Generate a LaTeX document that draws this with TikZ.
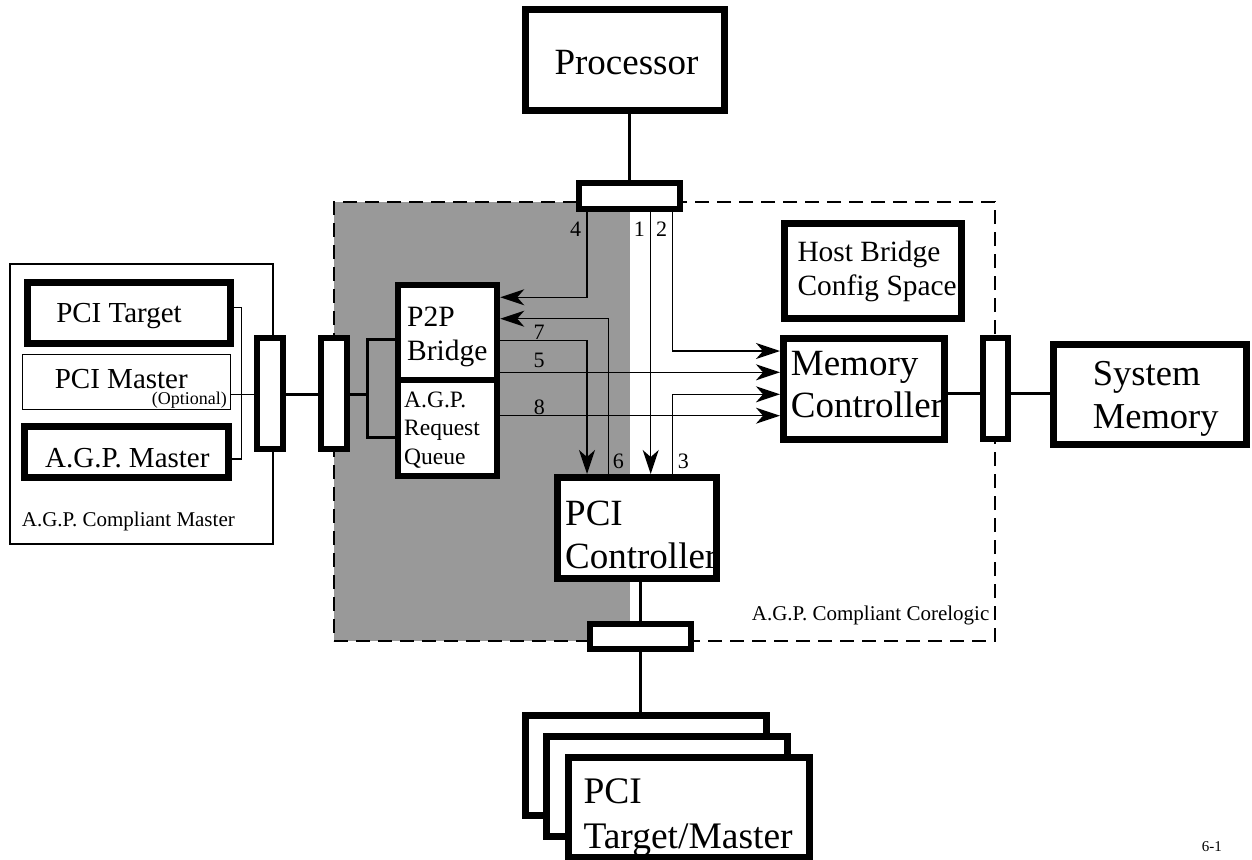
\documentclass[tikz,border=0pt]{standalone}
\usepackage{fontspec}
\setmainfont{Liberation Serif}
\usetikzlibrary{arrows.meta}
\definecolor{shadegray}{RGB}{153,153,153}
\newcommand{\setfs}[1]{\fontsize{#1}{#1}\selectfont}
\tikzset{
  heavybox/.style={draw, line width=7pt, fill=white, inner sep=0pt},
  portbox/.style={draw, line width=6pt, fill=white, inner sep=0pt},
  txt/.style={inner sep=0pt, anchor=base west},
  ctxt/.style={inner sep=0pt, anchor=base},
  bus/.style={line width=3pt},
  thinline/.style={line width=1.2pt},
  flow/.style={line width=1.5pt, -{Stealth[length=24pt,width=16pt,inset=7pt]}},
  num/.style={inner sep=0pt, anchor=base, font=\setfs{22}},
}
\begin{document}
\begin{tikzpicture}[x=1pt,y=-1pt]
\useasboundingbox (0,0) rectangle (1252,859);
% shaded area and corelogic frame
\node[fill=shadegray, inner sep=0pt, outer sep=0pt, minimum width=296pt, minimum height=439pt, anchor=north west] (shade) at (334,202) {};
\node[draw, line width=2pt, dash pattern=on 14pt off 8pt, inner sep=0pt, outer sep=0pt, minimum width=661pt, minimum height=439pt, anchor=north west] (core) at (334,202) {};
% master frame
\node[draw, line width=2pt, inner sep=0pt, outer sep=0pt, minimum width=263pt, minimum height=280.5pt] (mframe) at (141,403.75) {};
% boxes
\node[heavybox, minimum width=199pt, minimum height=100pt] (proc) at (624.5,60) {};
\node[portbox, minimum width=101pt, minimum height=25.5pt] (topport) at (629.5,195.75) {};
\node[heavybox, line width=6.5pt, minimum width=99pt, minimum height=95pt] (p2p) at (447.5,332.5) {};
\node[heavybox, line width=6.5pt, minimum width=99pt, minimum height=96pt] (arq) at (447.5,428) {};
\node[portbox, minimum width=26pt, minimum height=111pt] (cport) at (334,393.5) {};
\node[portbox, minimum width=26.5pt, minimum height=111pt] (mport) at (269.75,393.5) {};
\node[heavybox, minimum width=203pt, minimum height=60.5pt] (ptgt) at (128.5,312.75) {};
\node[draw, line width=1pt, fill=white, inner sep=0pt, minimum width=207.4pt, minimum height=54.7pt] (pmst) at (126.5,382.2) {};
\node[heavybox, minimum width=204pt, minimum height=51pt] (agpm) at (126.5,451.5) {};
\node[heavybox, minimum width=177pt, minimum height=95pt] (hbcs) at (872.5,270.5) {};
\node[heavybox, minimum width=160.5pt, minimum height=100.5pt] (memc) at (863.75,388.75) {};
\node[portbox, minimum width=25pt, minimum height=101pt] (memport) at (995,388.5) {};
\node[heavybox, minimum width=193pt, minimum height=100pt] (sysmem) at (1150,394) {};
\node[heavybox, minimum width=159pt, minimum height=101pt] (pcic) at (637,528) {};
\node[portbox, minimum width=100.5pt, minimum height=25pt] (botport) at (640.25,636) {};
\node[heavybox, minimum width=241pt, minimum height=100pt] (tm3) at (645.5,765) {};
\node[heavybox, minimum width=241pt, minimum height=100pt] (tm2) at (667,786) {};
\node[heavybox, minimum width=241pt, minimum height=100pt] (tm1) at (688.5,807) {};
% helper coordinates
\coordinate (xa) at (587,0);
\coordinate (xb) at (608.3,0);
\coordinate (xc) at (650.7,0);
\coordinate (xd) at (672.3,0);
\coordinate (xp) at (629,0);
\coordinate (xq) at (640,0);
\coordinate (tbx) at (241.7,0);
\coordinate (y297) at (0,297.3);
\coordinate (y308) at (0,307.7);
\coordinate (y319) at (0,318.7);
\coordinate (y339) at (0,339.3);
\coordinate (y340) at (0,340.3);
\coordinate (y351) at (0,351);
\coordinate (y372) at (0,372.3);
\coordinate (y393) at (0,393.3);
\coordinate (y394) at (0,394.3);
\coordinate (y416) at (0,415.7);
\coordinate (y437) at (0,437.3);
\coordinate (y459) at (0,459);
\coordinate (brk) at (367.7,394.3);
% flows
\draw[flow] (topport.south -| xa) |- (p2p.east |- y297);
\draw[flow] (topport.south -| xc) -- (pcic.north -| xc);
\draw[flow] (topport.south -| xd) |- (memc.west |- y351);
\draw[flow] (pcic.north -| xb) |- (p2p.east |- y319);
\draw[flow] (p2p.east |- y340) -| (pcic.north -| xa);
\draw[flow] (p2p.east |- y372) -- (memc.west |- y372);
\draw[flow] (pcic.north -| xd) |- (memc.west |- y394);
\draw[flow] (arq.east |- y416) -- (memc.west |- y416);
% master internal wiring
\draw[thinline] (ptgt.east |- y308) -| (tbx |- y459) -- (agpm.east |- y459);
\draw[thinline] (pmst.east |- y394) -- (mport.west |- y394);
% buses
\draw[bus] (mport.east |- y394) -- (cport.west |- y394);
\draw[bus] (p2p.west |- y339) -| (brk |- y437) -- (arq.west |- y437);
\draw[bus] (cport.east |- y394) -- (brk);
\draw[bus] (proc.south -| xp) -- (topport.north -| xp);
\draw[bus] (memc.east |- y393) -- (memport.west |- y393);
\draw[bus] (memport.east |- y393) -- (sysmem.west |- y393);
\draw[bus] (pcic.south -| xq) -- (botport.north -| xq);
\draw[bus] (botport.south -| xq) -- (tm3.north -| xq);
% texts
\node[txt, font=\setfs{37}] (procT) at (554.3,74.5) {Processor};
\node[txt, font=\setfs{29.5}] (p2pT1) at (407,326) {P2P};
\node[txt, font=\setfs{29.5}] (p2pT2) at (407,360) {Bridge};
\node[txt, font=\setfs{23.5}] (arqT1) at (404,407) {A.G.P.};
\node[txt, font=\setfs{23.5}] (arqT2) at (404,435.5) {Request};
\node[txt, font=\setfs{23.5}] (arqT3) at (404,464) {Queue};
\node[ctxt, font=\setfs{29}] (ptgtT) at (119,322.7) {PCI Target};
\node[ctxt, font=\setfs{29}] (pmstT) at (121.3,388.5) {PCI Master};
\node[inner sep=0pt, anchor=base east, font=\setfs{18}] (optT) at (227,404.5) {(Optional)};
\node[txt, font=\setfs{29}] (agpmT) at (45,467.7) {A.G.P. Master};
\node[txt, font=\setfs{21}] (mframeT) at (21.7,526.7) {A.G.P. Compliant Master};
\node[txt, font=\setfs{29.4}] (hbcsT1) at (797.3,261) {Host Bridge};
\node[txt, font=\setfs{29.4}] (hbcsT2) at (797.3,295.7) {Config Space};
\node[txt, font=\setfs{37}] (memcT1) at (790.7,375) {Memory};
\node[txt, font=\setfs{37}] (memcT2) at (790.7,417.7) {Controller};
\node[txt, font=\setfs{36.5}] (sysmemT1) at (1092.7,385) {System};
\node[txt, font=\setfs{36.5}] (sysmemT2) at (1092.7,428.3) {Memory};
\node[txt, font=\setfs{37}] (pcicT1) at (565,525.7) {PCI};
\node[txt, font=\setfs{37}] (pcicT2) at (565,568.3) {Controller};
\node[txt, font=\setfs{37.5}] (tmT1) at (583.3,803.3) {PCI};
\node[txt, font=\setfs{37.5}] (tmT2) at (583.3,848.3) {Target/Master};
\node[txt, font=\setfs{21}] (coreT) at (751.7,620.7) {A.G.P. Compliant Corelogic};
\node[txt, font=\setfs{15}] (pageT) at (1201.7,851.7) {6-1};
% flow numbers
\node[num] (n4) at (575.7,236.7) {4};
\node[num] (n1) at (639.3,236.7) {1};
\node[num] (n2) at (661.7,236.7) {2};
\node[num] (n7) at (539,339.3) {7};
\node[num] (n5) at (539,367.3) {5};
\node[num] (n8) at (539.3,414.5) {8};
\node[num] (n6) at (618.3,468.3) {6};
\node[num] (n3) at (683.3,468.3) {3};
\end{tikzpicture}
\end{document}
